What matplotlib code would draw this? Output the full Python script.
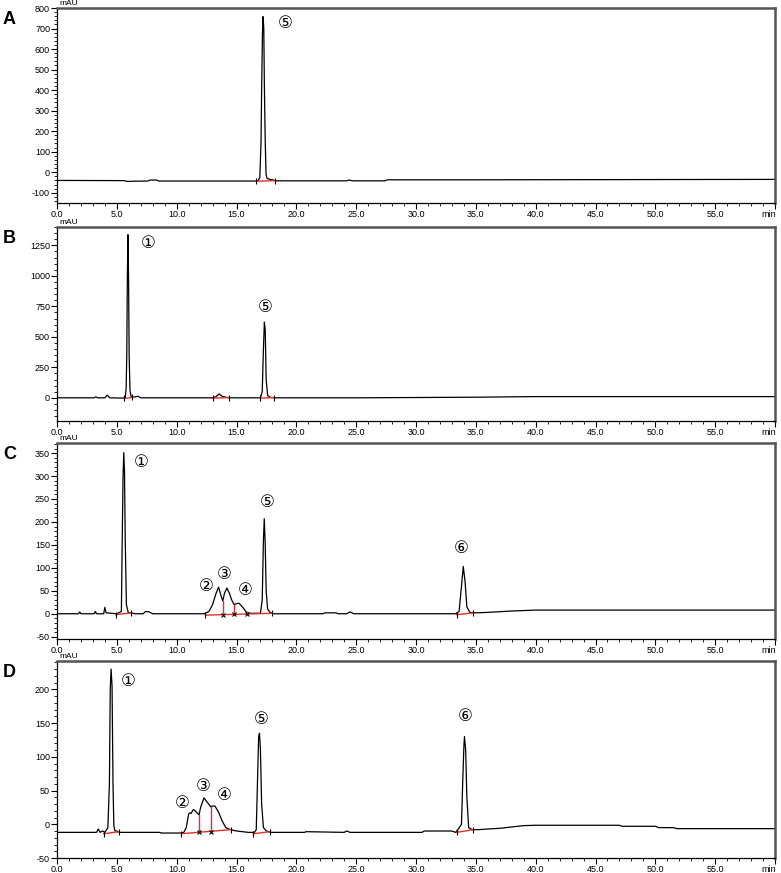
import matplotlib
matplotlib.use("Agg")
from matplotlib import pyplot as plt
from matplotlib.ticker import MultipleLocator, FuncFormatter

plt.rcParams['font.family'] = ['Liberation Sans', 'DejaVu Sans']
plt.rcParams['axes.unicode_minus'] = False

# ---- chromatogram traces (time in min, signal in mAU) ----
t_A = [0, 5.6, 5.9, 6.3, 7.6, 7.8, 8.3, 8.5, 16.5, 16.8, 16.95, 17.05, 17.1, 17.17,
       17.22, 17.28, 17.33, 17.4, 17.47, 17.55, 17.8, 18.1, 18.2, 24.2, 24.4, 24.7,
       27.4, 27.6, 35, 60]
v_A = [-40, -41, -45, -44, -43, -38, -38, -43, -43, -42, -25, 150, 400, 680,
       758, 700, 420, 150, -10, -30, -35, -38, -42, -42, -38, -42,
       -42, -37, -37, -35]

t_B = [0, 3.1, 3.25, 3.4, 4.0, 4.2, 4.4, 5.5, 5.7, 5.78, 5.83, 5.88, 5.93, 5.98,
       6.03, 6.1, 6.2, 6.5, 6.8, 7.0, 13.0, 13.3, 13.55, 13.8, 14.2, 14.4, 17.0,
       17.15, 17.25, 17.33, 17.4, 17.48, 17.6, 17.8, 18.1, 25, 35, 40, 60]
v_B = [0, 0, 8, 0, 0, 22, 0, -2, 0, 80, 350, 980, 1337, 980,
       340, 60, 5, 8, 12, 0, 0, 10, 32, 12, 3, 0, 0,
       50, 400, 620, 560, 150, 20, 5, 0, 0, 5, 10, 10]

t_C = [0, 1.8, 1.9, 2.0, 3.1, 3.2, 3.3, 3.9, 4.0, 4.1, 5.0, 5.38, 5.45, 5.52, 5.58,
       5.64, 5.7, 5.8, 5.95, 6.2, 6.5, 7.2, 7.4, 7.7, 8.0, 12.3, 12.7, 13.0, 13.3,
       13.5, 13.7, 13.85, 14.0, 14.2, 14.4, 14.6, 14.8, 15.0, 15.2, 15.5, 15.8,
       16.1, 17.0, 17.15, 17.25, 17.32, 17.4, 17.48, 17.6, 17.8, 18.1, 22.2, 22.4,
       23.3, 23.5, 24.2, 24.5, 24.8, 33.3, 33.6, 33.8, 33.95, 34.1, 34.25, 34.5,
       35.0, 36.0, 38.0, 40.0, 60]
v_C = [0, 0, 4, 0, 0, 5, 0, 0, 14, 2, 0, 5, 160, 300, 351,
       310, 165, 20, 3, 2, 0, 0, 5, 4, 0, 0, 5, 20, 45,
       58, 40, 28, 45, 56, 45, 30, 20, 22, 23, 15, 4,
       1, 1, 30, 160, 207, 150, 50, 10, 3, 0, 0, 2,
       2, 0, 0, 4, 0, 0, 5, 60, 103, 70, 15, 3,
       2, 3, 6, 8, 8]

t_D = [0, 3.3, 3.45, 3.6, 3.8, 4.0, 4.25, 4.38, 4.45, 4.52, 4.6, 4.68, 4.75, 4.85,
       5.0, 5.2, 8.6, 8.7, 10.3, 10.6, 10.8, 11.0, 11.1, 11.2, 11.4, 11.6, 11.87,
       12.0, 12.28, 12.5, 12.84, 13.0, 13.2, 13.5, 13.8, 14.1, 14.5, 15.0, 16.0,
       16.5, 16.65, 16.75, 16.85, 16.92, 17.0, 17.1, 17.25, 17.5, 17.9, 20.7, 20.8,
       24.0, 24.2, 24.5, 30.5, 30.7, 33.0, 33.3, 33.5, 33.8, 33.9, 34.0, 34.05,
       34.15, 34.25, 34.4, 34.7, 35.2, 36.0, 37.0, 38.0, 39.0, 40.0, 47.0, 47.2,
       50.0, 50.3, 51.5, 51.8, 60]
v_D = [-12, -12, -7, -12, -10, -12, -5, 60, 200, 230, 205, 60, -2, -10,
       -10, -12, -12, -13, -13, -12, -5, 15, 17, 16, 22, 19, 14,
       25, 39, 34, 26, 27, 27, 18, 5, -5, -8, -10, -12,
       -12, -8, 60, 130, 135, 110, 30, -5, -10, -12, -12, -11,
       -12, -10, -12, -12, -10, -10, -12, -8, 0, 60, 115, 130,
       110, 40, -5, -8, -8, -7, -6, -4, -2, -1.5, -1.5, -3,
       -3, -5, -5, -6.5, -6.5]

# integration baselines (t0, v0, t1, v1) and drop lines (t, v_low, v_high)
base_A = [(16.6, -44, 18.2, -41)]
base_B = [(5.6, -5, 6.25, 3), (13.0, -3, 14.4, 2), (17.0, -3, 18.1, 2)]
base_C = [(4.9, -2, 6.2, 2), (12.4, -3, 18.0, 1), (33.4, -2, 34.8, 2)]
base_D = [(3.9, -14, 5.2, -11), (10.4, -14, 14.5, -8), (16.4, -14, 17.8, -11),
          (33.4, -12, 34.8, -8)]
drop_C = [(13.85, -2, 28), (14.8, -1, 20), (15.9, 0, 3)]
drop_D = [(11.87, -12, 14), (12.84, -11, 26)]

# peak labels (text, t, v)
lab_A = [('⑤', 19.05, 727)]
lab_B = [('①', 7.6, 1266), ('⑤', 17.4, 746)]
lab_C = [('①', 7.07, 330), ('②', 12.5, 61), ('③', 13.95, 87), ('④', 15.7, 51),
         ('⑤', 17.6, 243), ('⑥', 33.8, 144)]
lab_D = [('①', 5.96, 213), ('②', 10.5, 31), ('③', 12.2, 57), ('④', 14.0, 44),
         ('⑤', 17.04, 156), ('⑥', 34.1, 160)]

panels = [
    ('A', t_A, v_A, base_A, [], lab_A, (-150, 800), 100, 20, (8, 203)),
    ('B', t_B, v_B, base_B, [], lab_B, (-190, 1400), 250, 50, (227, 421)),
    ('C', t_C, v_C, base_C, drop_C, lab_C, (-55, 372), 50, 10, (443, 639)),
    ('D', t_D, v_D, base_D, drop_D, lab_D, (-50, 242), 50, 10, (661, 858)),
]

W, H = 781, 873
fig = plt.figure(figsize=(W / 100, H / 100), dpi=100)

for name, t, v, base, drops, labs, ylim, major, minor, (top, bot) in panels:
    ax = fig.add_axes([57 / W, 1 - bot / H, 718 / W, (bot - top) / H])
    ax.plot(t, v, color='black', lw=0.9)
    for t0, v0, t1, v1 in base:
        ax.plot([t0, t1], [v0, v1], color='#e0302a', lw=1.0)
        ax.plot([t0, t1], [v0, v1], ls='none', marker='|', ms=4, mew=0.8, color='black')
    for td, vl, vh in drops:
        ax.plot([td, td], [vl, vh], color='#e0302a', lw=1.0)
        ax.plot([td], [vl], ls='none', marker='x', ms=3, mew=0.8, color='black')
    for s, tx, ty in labs:
        ax.text(tx, ty, s, ha='center', va='center', fontsize=12,
                family=['DejaVu Sans', 'Noto Sans CJK SC'])

    ax.set_xlim(0, 60)
    ax.set_ylim(*ylim)
    ax.xaxis.set_major_locator(MultipleLocator(5))
    ax.xaxis.set_minor_locator(MultipleLocator(1))
    ax.yaxis.set_major_locator(MultipleLocator(major))
    ax.yaxis.set_minor_locator(MultipleLocator(minor))
    ax.xaxis.set_major_formatter(FuncFormatter(lambda x, p: '' if x >= 59.9 else f'{x:.1f}'))
    ax.yaxis.set_major_formatter(FuncFormatter(lambda y, p: f'{y:.0f}'))
    ax.tick_params(which='major', length=4, width=0.8, labelsize=6.5, pad=1)
    ax.tick_params(which='minor', length=2, width=0.6)
    for side in ('top', 'right'):
        ax.spines[side].set_color('#555555')
        ax.spines[side].set_linewidth(1.8)
    for side in ('left', 'bottom'):
        ax.spines[side].set_linewidth(0.9)

    ax.annotate('min', xy=(1.0, 0.0), xycoords='axes fraction', xytext=(1, -5),
                textcoords='offset points', ha='right', va='top', fontsize=6.5)
    ax.text(0.003, 1.003, 'mAU', transform=ax.transAxes, ha='left', va='bottom', fontsize=6)
    fig.text(3 / W, 1 - (top + 3) / H, name, ha='left', va='top',
             fontsize=13, fontweight='bold')

fig.savefig('out.png', dpi=100)
